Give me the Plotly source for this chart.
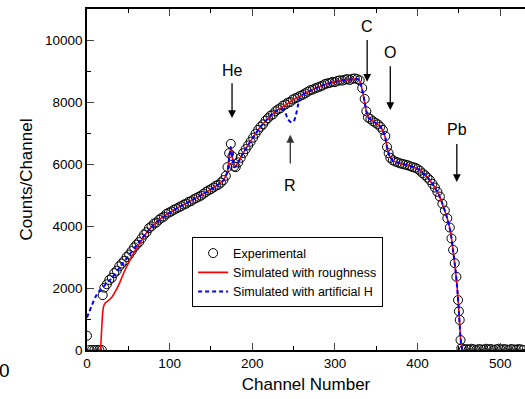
import plotly.graph_objects as go

# ---------------- data ----------------
exp_ch = [0, 3, 6, 9, 12, 15, 18, 19, 21, 24, 27, 30, 33, 36, 39, 42, 45, 48, 51, 54, 57, 60,
          63, 66, 69, 72, 75, 78, 81, 84, 87, 90, 93, 96, 99, 102, 105, 108, 111, 114, 117, 120,
          123, 126, 129, 132, 135, 138, 141, 144, 147, 150, 153, 156, 159, 162, 165, 168, 170,
          172, 174, 176, 178, 180, 183, 186, 189, 192, 195, 198, 201, 204, 207, 210, 213, 216,
          219, 222, 225, 228, 231, 234, 237, 240, 243, 246, 249, 252, 255, 258, 261, 264, 267,
          270, 273, 276, 279, 282, 285, 288, 291, 294, 297, 300, 303, 306, 309, 312, 315, 318,
          321, 324, 327, 330, 333, 336, 338, 340, 343, 346, 349, 352, 355, 358, 361, 363, 365,
          367, 370, 373, 376, 379, 382, 385, 388, 391, 394, 397, 400, 403, 406, 409, 412, 415,
          418, 421, 424, 427, 430, 433, 436, 439, 441, 443, 445, 447, 449, 450, 451, 452, 453,
          456, 459, 462, 465, 468, 471, 474, 477, 480, 483, 486, 489, 492, 495, 498, 501, 504,
          507, 510, 513, 516, 519, 522, 525, 528]
exp_counts = [460, 0, 0, 0, 0, 0, 0, 1770, 2010, 2120, 2260, 2330, 2480, 2560, 2700, 2790, 2880,
              3000, 3080, 3190, 3310, 3400, 3480, 3600, 3720, 3800, 3930, 3990, 4080, 4110, 4200,
              4260, 4300, 4390, 4430, 4470, 4520, 4560, 4600, 4640, 4690, 4720, 4780, 4800, 4860,
              4900, 4940, 4980, 5040, 5100, 5150, 5190, 5240, 5300, 5330, 5400, 5480, 5620, 5900,
              6350, 6650, 6250, 5920, 5900, 6050, 6200, 6350, 6480, 6600, 6720, 6850, 6980, 7100,
              7200, 7280, 7400, 7480, 7560, 7600, 7700, 7760, 7800, 7880, 7920, 7980, 8000, 8080,
              8120, 8150, 8200, 8230, 8280, 8330, 8380, 8400, 8440, 8470, 8500, 8530, 8580, 8600,
              8620, 8650, 8640, 8680, 8700, 8690, 8720, 8740, 8710, 8750, 8760, 8740, 8700, 8450,
              8100, 7700, 7500, 7450, 7380, 7330, 7280, 7200, 7100, 6900, 6550, 6350, 6200, 6120,
              6080, 6050, 6020, 6000, 5980, 5960, 5930, 5900, 5880, 5840, 5780, 5700, 5640, 5560,
              5480, 5360, 5240, 5100, 4950, 4720, 4500, 4250, 3950, 3600, 3230, 2800, 2360, 1610,
              1250, 970, 320, 60, 20, 30, 10, 40, 20, 0, 30, 20, 10, 40, 20, 30, 0, 20, 40, 10, 30,
              20, 0, 30, 20, 10, 30, 20, 0]

rough_ch = [0, 16, 17, 18, 19, 20, 22, 25, 30, 35, 40, 46, 52, 58, 64, 70, 77, 85, 95, 110, 125,
            140, 155, 165, 170, 172, 174, 176, 178, 180, 190, 200, 210, 220, 230, 240, 250, 260,
            270, 280, 290, 300, 310, 320, 327, 330, 333, 336, 338, 341, 345, 350, 355, 358, 361,
            363, 366, 370, 375, 385, 395, 400, 405, 410, 415, 420, 425, 430, 435, 440, 443, 446,
            448, 450, 452, 454, 456, 530]
rough_counts = [0, 0, 300, 800, 1200, 1400, 1520, 1580, 1700, 1920, 2200, 2580, 2900, 3200, 3450,
                3700, 3940, 4150, 4350, 4590, 4800, 5020, 5270, 5470, 5750, 6200, 6550, 6200, 5900,
                5920, 6400, 6820, 7200, 7500, 7730, 7900, 8080, 8220, 8360, 8480, 8580, 8650, 8700,
                8730, 8740, 8680, 8400, 8000, 7700, 7480, 7400, 7310, 7200, 7080, 6850, 6550, 6260,
                6120, 6050, 5980, 5900, 5840, 5740, 5620, 5470, 5280, 5050, 4720, 4330, 3800, 3200,
                2550, 2000, 1250, 380, 20, 0, 0]

artH_ch = [0, 3, 6, 10, 14, 18, 22, 30, 40, 50, 60, 70, 80, 95, 110, 125, 140, 155, 165, 170, 172,
           174, 176, 178, 180, 190, 200, 210, 220, 230, 236, 240, 243, 246, 250, 253, 255, 258,
           270, 280, 290, 300, 310, 320, 327, 330, 333, 336, 338, 341, 345, 350, 355, 358, 361,
           363, 366, 370, 375, 385, 395, 400, 405, 410, 415, 420, 425, 430, 435, 440, 443, 446,
           448, 450, 452, 454, 456, 530]
artH_counts = [1050, 1250, 1450, 1700, 1880, 1990, 2100, 2320, 2680, 3030, 3380, 3720, 4020, 4340,
               4590, 4800, 5020, 5270, 5470, 5750, 6200, 6550, 6200, 5900, 5920, 6400, 6820, 7200,
               7500, 7730, 7780, 7650, 7450, 7360, 7360, 7600, 7850, 8180, 8360, 8480, 8580, 8650,
               8700, 8730, 8740, 8680, 8400, 8000, 7700, 7480, 7400, 7310, 7200, 7080, 6850, 6550,
               6260, 6120, 6050, 5980, 5900, 5840, 5740, 5620, 5470, 5280, 5050, 4720, 4330, 3800,
               3200, 2550, 2000, 1250, 380, 20, 0, 0]

x_ticks = [0, 100, 200, 300, 400, 500]
x_tick_text = ["0", "100", "200", "300", "400", "500"]
y_ticks = [0, 2000, 4000, 6000, 8000, 10000]
y_tick_text = ["0", "2000", "4000", "6000", "8000", "10000"]

# element labels: (text, channel, arrow head counts, arrow tail counts, label counts)
labels = [("He", 175.5, 7480, 8650, 9030),
          ("C", 339, 8650, 10050, 10420),
          ("O", 367, 7740, 9200, 9610),
          ("Pb", 447.5, 5420, 6690, 7100)]
r_label = ("R", 246, 6940, 5970, 5320)

FONT = "Liberation Sans, Arial, sans-serif"

fig = go.Figure()
fig.add_trace(go.Scatter(x=exp_ch, y=exp_counts, mode="markers", name="Experimental",
                         marker=dict(symbol="circle-open", size=9, color="black",
                                     line=dict(width=1, color="black"))))
fig.add_trace(go.Scatter(x=rough_ch, y=rough_counts, mode="lines",
                         name="Simulated with roughness",
                         line=dict(color="#ff0000", width=1.6, shape="spline", smoothing=0.4)))
fig.add_trace(go.Scatter(x=artH_ch, y=artH_counts, mode="lines",
                         name="Simulated with artificial H",
                         line=dict(color="#0000ff", width=2, dash="4px,3px",
                                   shape="spline", smoothing=0.4)))

for text, ch, head, tail, lab in labels:
    fig.add_annotation(x=ch, y=head, ax=ch, ay=tail, xref="x", yref="y", axref="x", ayref="y",
                       text="", showarrow=True, arrowhead=2, arrowsize=1.2, arrowwidth=1.3,
                       arrowcolor="black")
    fig.add_annotation(x=ch, y=lab, text=text, showarrow=False,
                       font=dict(size=16, color="black", family=FONT))

t, ch, head, tail, lab = r_label
fig.add_annotation(x=ch, y=head, ax=ch, ay=tail, xref="x", yref="y", axref="x", ayref="y",
                   text="", showarrow=True, arrowhead=2, arrowsize=1.2, arrowwidth=1.3,
                   arrowcolor="#333333")
fig.add_annotation(x=ch, y=lab, text=t, showarrow=False,
                   font=dict(size=16, color="black", family=FONT))

# stray "0" at left bottom
fig.add_annotation(x=(4 - 87) / 438, y=-0.06, xref="paper", yref="paper", text="0",
                   showarrow=False, font=dict(size=19, color="black", family=FONT),
                   xanchor="center", yanchor="middle")

fig.update_layout(
    width=525, height=399,
    margin=dict(l=87, r=0, t=9, b=49, autoexpand=False),
    paper_bgcolor="white", plot_bgcolor="white",
    font=dict(family=FONT, size=13, color="black"),
    showlegend=True,
    legend=dict(x=0.24, y=0.33, xanchor="left", yanchor="top",
                bordercolor="black", borderwidth=1, bgcolor="white",
                font=dict(size=12.5, family=FONT), tracegroupgap=0, itemwidth=30),
    xaxis=dict(range=[0, 530], tickvals=x_ticks, ticktext=x_tick_text, ticks="inside",
               ticklen=7, tickwidth=1.3, automargin=False,
               showline=True, linecolor="black", linewidth=1.5, mirror="allticks",
               showgrid=False, zeroline=False,
               minor=dict(dtick=50, ticks="inside", ticklen=4, tickwidth=1.2, tickcolor="black"),
               tickfont=dict(size=13.5),
               title=dict(text="Channel Number", font=dict(size=17), standoff=8)),
    yaxis=dict(range=[0, 11000], tickvals=y_ticks, ticktext=y_tick_text, ticks="inside",
               ticklen=7, tickwidth=1.3, automargin=False,
               showline=True, linecolor="black", linewidth=1.5, mirror=False,
               showgrid=False, zeroline=False,
               minor=dict(dtick=1000, ticks="inside", ticklen=4, tickwidth=1.2, tickcolor="black"),
               tickfont=dict(size=13.5),
               title=dict(text="Counts/Channel", font=dict(size=17), standoff=8)),
)

fig.write_html("out.html", config={"displayModeBar": False},
               post_script="document.body.style.margin='0';document.body.style.overflow='hidden';")
